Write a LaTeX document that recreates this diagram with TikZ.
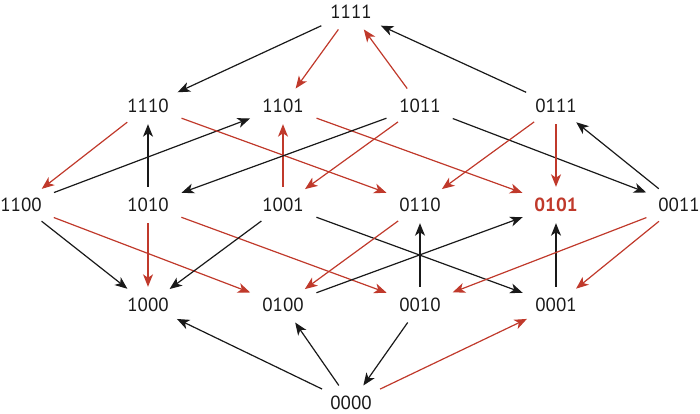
\documentclass[tikz,border=0pt]{standalone}
\usepackage{fontspec}
\setmainfont{PT Sans}
\usetikzlibrary{arrows.meta,shapes.geometric}
\definecolor{myred}{RGB}{192,57,43}
\definecolor{myblack}{RGB}{25,25,25}
\begin{document}
\begin{tikzpicture}[x=1pt,y=-1pt,
  v/.style={ellipse,minimum width=90pt,minimum height=36pt,inner sep=0pt,font=\fontsize{19}{19}\selectfont,text=myblack},
  bk/.style={draw=myblack,line width=1.2pt,-{Stealth[length=12.5pt,width=10pt,inset=3.5pt]}},
  rd/.style={bk,draw=myred}]
\useasboundingbox (0,0) rectangle (700,414);
\node[v] (a1111) at (351,12) {1111};
\node[v] (a1110) at (148,106) {1110};
\node[v] (a1101) at (283,106) {1101};
\node[v] (a1011) at (420,106) {1011};
\node[v] (a0111) at (556,106) {0111};
\node[v] (a1100) at (21,205) {1100};
\node[v] (a1010) at (148,205) {1010};
\node[v] (a1001) at (283,205) {1001};
\node[v] (a0110) at (420,205) {0110};
\node[v,text=myred,font=\fontsize{19}{19}\selectfont\bfseries] (a0101) at (556,205) {0101};
\node[v] (a0011) at (679,205) {0011};
\node[v] (a1000) at (148,305) {1000};
\node[v] (a0100) at (283,305) {0100};
\node[v] (a0010) at (420,305) {0010};
\node[v] (a0001) at (556,305) {0001};
\node[v] (a0000) at (351,403) {0000};
% top
\draw[bk] (a1111) -- (a1110);
\draw[rd] (a1111) -- (a1101);
\draw[rd] (a1011) -- (a1111);
\draw[bk] (a0111) -- (a1111);
% row 2 - row 3
\draw[rd] (a1110) -- (a1100);
\draw[bk] (a1010) -- (a1110);
\draw[bk] (a1100) -- (a1101);
\draw[rd] (a1001) -- (a1101);
\draw[rd] (a1110) -- (a0110);
\draw[rd] (a1101) -- (a0101);
\draw[bk] (a1011) -- (a1010);
\draw[rd] (a1011) -- (a1001);
\draw[bk] (a1011) -- (a0011);
\draw[rd] (a0111) -- (a0110);
\draw[rd] (a0111) -- (a0101);
\draw[bk] (a0011) -- (a0111);
% row 3 - row 4
\draw[bk] (a1100) -- (a1000);
\draw[rd] (a1100) -- (a0100);
\draw[rd] (a1010) -- (a1000);
\draw[rd] (a1010) -- (a0010);
\draw[bk] (a1001) -- (a1000);
\draw[bk] (a1001) -- (a0001);
\draw[rd] (a0110) -- (a0100);
\draw[bk] (a0010) -- (a0110);
\draw[bk] (a0100) -- (a0101);
\draw[bk] (a0001) -- (a0101);
\draw[rd] (a0011) -- (a0010);
\draw[rd] (a0011) -- (a0001);
% bottom
\draw[bk] (a0000) -- (a1000);
\draw[bk] (a0000) -- (a0100);
\draw[bk] (a0010) -- (a0000);
\draw[rd] (a0000) -- (a0001);
\end{tikzpicture}
\end{document}
